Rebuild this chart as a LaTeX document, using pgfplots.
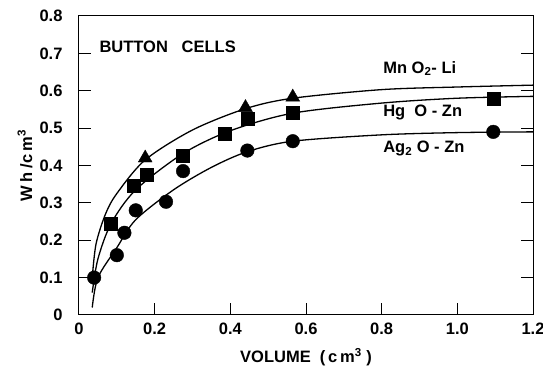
\documentclass[border=0pt]{standalone}
\usepackage{pgfplots}
\pgfplotsset{compat=1.18}
\usepackage{fontspec}
\setmainfont{Liberation Sans}
\begin{document}
\begin{tikzpicture}
\begin{axis}[
  name=ax,
  scale only axis,
  width=454pt, height=299pt,
  xmin=0, xmax=1.2, ymin=0, ymax=0.8,
  xtick={0,0.2,0.4,0.6,0.8,1.0,1.2},
  xticklabels={0,0.2,0.4,0.6,0.8,1.0,1.2},
  ytick={0,0.1,0.2,0.3,0.4,0.5,0.6,0.7,0.8},
  yticklabels={0,0.1,0.2,0.3,0.4,0.5,0.6,0.7,0.8},
  xtick pos=bottom, ytick pos=both,
  tick align=inside,
  major tick length=12pt,
  tick style={line width=1pt, black},
  axis line style={line width=1pt},
  ticklabel style={font=\fontsize{16.5}{18}\selectfont\bfseries},
  yticklabel style={xshift=-13pt},
  xticklabel style={yshift=-4pt},
  xlabel={VOLUME\ \ (\,c\,m$^{\mathbf{3}}$\ )},
  ylabel={W\,h /c\,m$^{\mathbf{3}}$},
  label style={font=\fontsize{16.5}{18}\selectfont\bfseries},
  ylabel style={at={(axis description cs:0,0.5)}, anchor=center, yshift=54pt},
  xlabel style={at={(axis description cs:0.5,0)}, anchor=center, yshift=-42pt},
  clip=false,
]
% fitted curves
\addplot[black, line width=1.3pt, smooth] coordinates {
 (0.035,0.10) (0.045,0.19) (0.07,0.27) (0.1,0.325) (0.175,0.415) (0.3,0.495) (0.44,0.552) (0.565,0.58) (0.8,0.603) (1.0,0.61) (1.2,0.615)};
\addplot[black, line width=1.3pt, smooth] coordinates {
 (0.035,0.06) (0.05,0.15) (0.085,0.245) (0.15,0.335) (0.275,0.432) (0.4,0.493) (0.565,0.54) (0.8,0.567) (1.0,0.58) (1.2,0.585)};
\addplot[black, line width=1.3pt, smooth] coordinates {
 (0.035,0.02) (0.05,0.10) (0.1,0.18) (0.15,0.255) (0.25,0.335) (0.35,0.395) (0.445,0.437) (0.565,0.465) (0.8,0.482) (1.0,0.488) (1.2,0.49)};
% data points
\addplot[only marks, mark=triangle*, mark size=8pt, black] coordinates {
 (0.175,0.42) (0.44,0.555) (0.565,0.583)};
\addplot[only marks, mark=square*, mark size=6.5pt, black] coordinates {
 (0.085,0.245) (0.145,0.345) (0.18,0.375) (0.275,0.425) (0.385,0.485) (0.445,0.525) (0.565,0.54) (1.095,0.58)};
\addplot[only marks, mark=*, mark size=6.8pt, black] coordinates {
 (0.04,0.10) (0.10,0.16) (0.12,0.22) (0.15,0.28) (0.23,0.303) (0.275,0.385) (0.445,0.44) (0.565,0.465) (1.095,0.49)};
\node[anchor=west, font=\fontsize{16.5}{18}\selectfont\bfseries] at (axis cs:0.045,0.717) {BUTTON\ \ \ CELLS};
\node[anchor=west, font=\fontsize{16.5}{18}\selectfont\bfseries] at (axis cs:0.795,0.66) {Mn O$_{\mathbf{2}}$- Li};
\node[anchor=west, font=\fontsize{16.5}{18}\selectfont\bfseries] at (axis cs:0.795,0.543) {Hg\ \ O - Zn};
\node[anchor=west, font=\fontsize{16.5}{18}\selectfont\bfseries] at (axis cs:0.795,0.445) {Ag$_{\mathbf{2}}$ O - Zn};
\end{axis}
\pgfresetboundingbox
\path ([xshift=-79pt,yshift=-53pt]ax.south west) rectangle ([xshift=10pt,yshift=16pt]ax.north east);
\end{tikzpicture}
\end{document}
